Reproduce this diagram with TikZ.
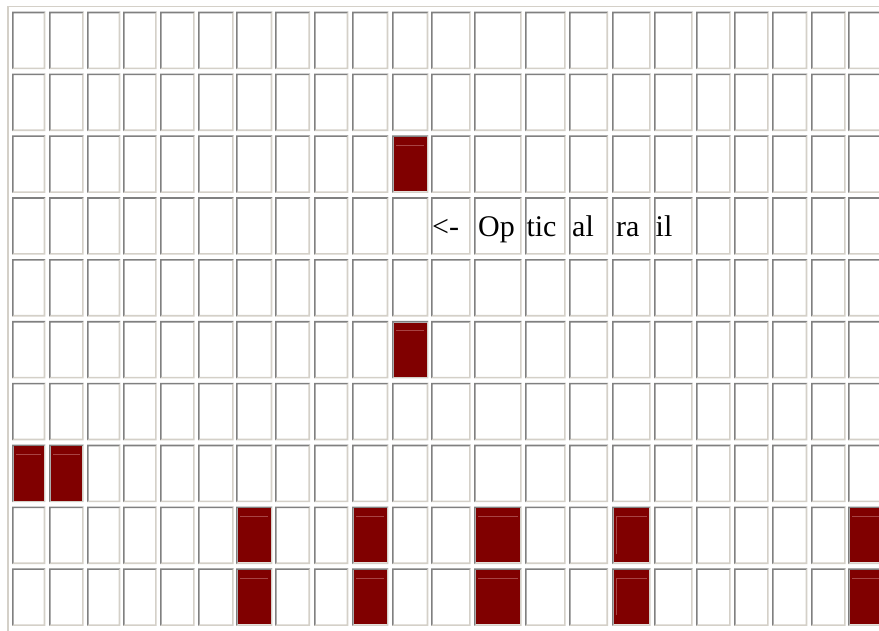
\documentclass[tikz,border=0pt]{standalone}
\usepackage{fontspec}
\setmainfont{Liberation Serif}
\definecolor{bdark}{HTML}{808080}
\definecolor{blight}{HTML}{D4D0C8}
\definecolor{cellred}{HTML}{800000}
\definecolor{redhi}{HTML}{A84444}
\def\bw{1.6}
\def\colL{{12,49,87,123,160,198,236,275,314,352,392,431,474,525,569,612,654,696,734,772,811,848}}
\def\colR{{45.3,83.7,120.3,156.7,194.7,233.7,272.3,310,348.3,388.3,428.3,470.7,521.7,565.7,608,650.7,692.7,730.7,768.7,807.3,845.7,884}}
\newcommand\getcellxy[2]{%
  \pgfmathsetmacro\cXa{\colL[#1]}%
  \pgfmathsetmacro\cXb{\colR[#1]}%
  \pgfmathsetmacro\cYa{11.7+61.85*#2}%
  \pgfmathsetmacro\cYb{\cYa+57.5}%
  \pgfmathsetmacro\cXi{\cXa+\bw}%
  \pgfmathsetmacro\cXj{\cXb-\bw}%
  \pgfmathsetmacro\cYi{\cYa+\bw}%
  \pgfmathsetmacro\cYj{\cYb-\bw}%
}
\newcommand\plaincell[2]{%
  \getcellxy{#1}{#2}%
  \fill[blight] (\cXb,\cYa) -- (\cXb,\cYb) -- (\cXa,\cYb) -- (\cXi,\cYj) -- (\cXj,\cYj) -- (\cXj,\cYi) -- cycle;
  \fill[bdark] (\cXa,\cYb) -- (\cXa,\cYa) -- (\cXb,\cYa) -- (\cXj,\cYi) -- (\cXi,\cYi) -- (\cXi,\cYj) -- cycle;
}
\newcommand\redcell[2]{%
  \getcellxy{#1}{#2}%
  \fill[cellred] (\cXi,\cYi) rectangle (\cXj,\cYj);
  \pgfmathsetmacro\hA{\cXa+4}\pgfmathsetmacro\hB{\cXb-4}\pgfmathsetmacro\hY{\cYa+10}%
  \draw[hiline] (\hA,\hY) -- (\hB,\hY);
}
\newcommand\redcellv[2]{%
  \redcell{#1}{#2}%
  \pgfmathsetmacro\hV{\cYa+47}%
  \draw[hiline] (\hA,\hY) -- (\hA,\hV);
}
\begin{document}
\begin{tikzpicture}[x=1pt,y=-1pt,
  hiline/.style={redhi,line width=0.9pt},
  txt/.style={inner sep=0pt,anchor=base west,font=\fontsize{30}{36}\selectfont}]
\useasboundingbox (0,0) rectangle (879,631);
\clip (0,0) rectangle (879,631);
\fill[white] (0,0) rectangle (879,631);
% outer table border
\fill[blight] (7.3,5.7) rectangle (879,7.3);
\fill[blight] (7.3,5.7) rectangle (8.9,631);
% cells
\foreach \c in {0,...,21}{
  \foreach \r in {0,...,9}{
    \plaincell{\c}{\r}
  }
}
% red cells
\redcell{10}{2}
\redcell{10}{5}
\redcell{0}{7}
\redcell{1}{7}
\foreach \r in {8,9}{
  \redcell{6}{\r}
  \redcell{9}{\r}
  \redcell{12}{\r}
  \redcellv{15}{\r}
  \redcell{21}{\r}
}
% label
\node[txt] (t1) at (432,236.7) {<-};
\node[txt] (t2) at (478,236.7) {Op};
\node[txt] (t3) at (526.3,236.7) {tic};
\node[txt] (t4) at (572,236.7) {al};
\node[txt] (t5) at (616,236.7) {ra};
\node[txt] (t6) at (655.5,236.7) {il};
\end{tikzpicture}
\end{document}
